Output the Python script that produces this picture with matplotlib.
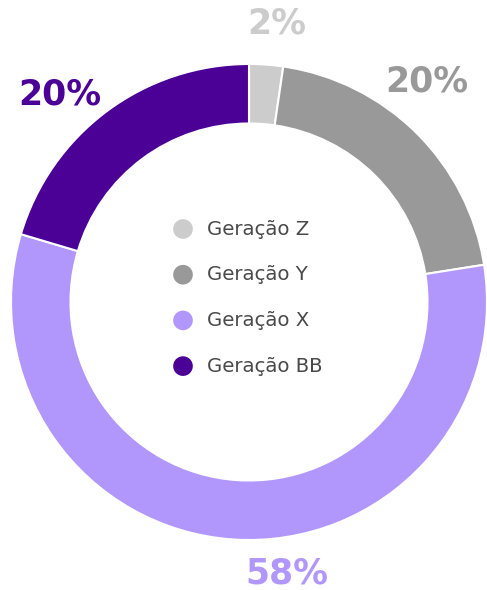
import numpy as np
from matplotlib import pyplot as plt

# Share of each generation
labels = ["Geração Z", "Geração Y", "Geração X", "Geração BB"]
values = [2.3, 20.2, 57.1, 20.4]
pct_text = ["2%", "20%", "58%", "20%"]
colors = ["#cccccc", "#999999", "#b197fc", "#4b0096"]

# where the % labels sit (degrees, radius)
lab_ang = [84.3, 51.2, -82.0, 132.4]
lab_rad = [1.175, 1.19, 1.15, 1.18]

W, H = 487, 590
cx, cy, R = 249, 302, 238

fig = plt.figure(figsize=(W/100, H/100), dpi=100)
ax = fig.add_axes([0, 0, 1, 1])

ax.pie(values, colors=colors, startangle=90, counterclock=False, radius=1,
       wedgeprops=dict(width=0.25, edgecolor='white', linewidth=1.5))

for t, a, r, c in zip(pct_text, lab_ang, lab_rad, colors):
    ax.text(r*np.cos(np.radians(a)), r*np.sin(np.radians(a)), t, color=c,
            fontsize=25, fontweight='bold', ha='center', va='center', family='DejaVu Sans')

# legend in the hole
for i, (lab, c) in enumerate(zip(labels, colors)):
    y = (cy - (229 + i*45.7))/R
    ax.scatter([(183-cx)/R], [y], s=200, color=c, edgecolors='none')
    ax.text((207-cx)/R, y, lab, color='#4a4a4a', fontsize=14.2, ha='left', va='center', family='DejaVu Sans')

ax.set_xlim(-cx/R, (W-cx)/R)
ax.set_ylim(-(H-cy)/R, cy/R)
ax.set_aspect('auto')
ax.axis('off')

plt.savefig('out.png')
